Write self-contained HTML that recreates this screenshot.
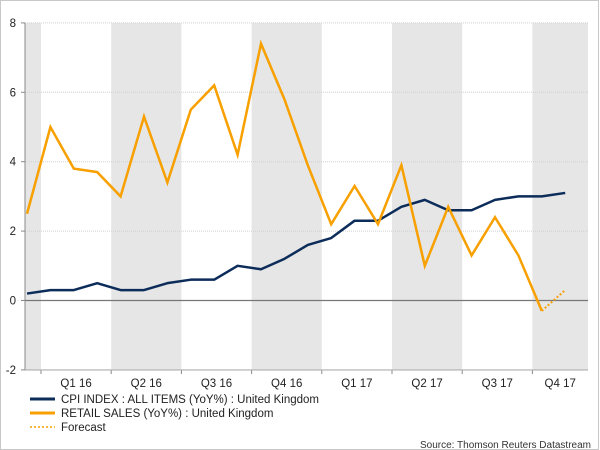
<!DOCTYPE html>
<html><head><meta charset="utf-8"><style>
body{margin:0;background:#fff}
svg{display:block;font-family:"Liberation Sans",Arial,sans-serif}
</style></head><body>
<svg id="c" width="600" height="450">
<rect x="0.5" y="0.5" width="598" height="449" fill="#fff" stroke="#c8c8c8"/>
<g id="bands"></g><g id="grid"></g><g id="axes"></g><g id="series"></g>
<g>
<line x1="30" y1="399" x2="55" y2="399" stroke="#0c2c5a" stroke-width="3"/>
<text x="61" y="403" font-size="11.5" fill="#222">CPI INDEX : ALL ITEMS (YoY%) : United Kingdom</text>
<line x1="30" y1="413" x2="55" y2="413" stroke="#f7a000" stroke-width="3"/>
<text x="61" y="417" font-size="11.5" fill="#222">RETAIL SALES (YoY%) : United Kingdom</text>
<line x1="30" y1="427" x2="55" y2="427" stroke="#f7a000" stroke-width="1.5" stroke-dasharray="2,2"/>
<text x="61" y="431" font-size="11.5" fill="#222">Forecast</text>
</g>
<text x="591" y="448" font-size="10" fill="#333" text-anchor="end">Source: Thomson Reuters Datastream</text>
</svg>
<script>
const quarterLabels=["Q1 16","Q2 16","Q3 16","Q4 16","Q1 17","Q2 17","Q3 17","Q4 17"];
const yTicks=[-2,0,2,4,6,8];
const cpi=[0.2,0.3,0.3,0.5,0.3,0.3,0.5,0.6,0.6,1.0,0.9,1.2,1.6,1.8,2.3,2.3,2.7,2.9,2.6,2.6,2.9,3.0,3.0,3.1];
const retail=[2.5,5.0,3.8,3.7,3.0,5.3,3.4,5.5,6.2,4.2,7.4,5.8,3.9,2.2,3.3,2.2,3.9,1.0,2.7,1.3,2.4,1.3,-0.3];
const forecast=[-0.3,0.3];
const NS="http://www.w3.org/2000/svg";
const L=25,R=588,T=23,B=370;
const y=v=>300.5-(v)*34.7;
const x=i=>27+23.4*i; // i=0 => Dec 2015
const qStart=q=>41+70.2*q;
function el(t,a,p){const e=document.createElementNS(NS,t);for(const k in a)e.setAttribute(k,a[k]);document.getElementById(p).appendChild(e);return e;}
// bands
let b=el('rect',{x:L,y:T,width:qStart(0)-L,height:B-T,fill:"#e6e6e6"},'bands');


quarterLabels.forEach((q,k)=>{
 if(k%2==1){const x0=qStart(k),x1=Math.min(qStart(k+1),R);
  const r=el('rect',{x:x0,y:T,width:x1-x0,height:B-T,fill:"#e6e6e6"},'bands');
  
  }
 const tx=el('text',{x:(qStart(k)+Math.min(qStart(k+1),R))/2,y:387,'font-size':11.5,fill:"#222",'text-anchor':'middle'},'axes');
 tx.textContent=q;
 
 
 const tk=el('line',{x1:qStart(k),x2:qStart(k),y1:B,y2:B+4,stroke:"#888"},'axes');
 
 
});
yTicks.forEach(v=>{
 const g=el('line',{x1:L,x2:R,y1:y(v),y2:y(v),stroke:v==0?"#777":"#d0d0d0",'stroke-width':v==0?1.3:1,'stroke-dasharray':v==0||v==-2?"":"1,1"},'grid');
 
 
 const t=el('text',{x:16,y:y(v)+4,'font-size':11.5,fill:"#222",'text-anchor':'end'},'axes');
 t.textContent=v;
 
 
 const tk=el('line',{x1:L-4,x2:L,y1:y(v),y2:y(v),stroke:"#888"},'axes');
 
 
});
const ax=el('line',{x1:L,x2:L,y1:T,y2:B,stroke:"#888"},'axes');


const bx=el('line',{x1:L,x2:R,y1:B,y2:B,stroke:"#aaa"},'axes');


const pts=(arr,o)=>arr.map((v,i)=>x(i+o)+","+y(v)).join(" ");
const p1=el('polyline',{points:pts(cpi,0),fill:"none",stroke:"#0c2c5a",'stroke-width':2.5,'stroke-linejoin':'round'},'series');


const p2=el('polyline',{points:pts(retail,0),fill:"none",stroke:"#f7a000",'stroke-width':2.5,'stroke-linejoin':'miter'},'series');


const p3=el('polyline',{points:pts(forecast,retail.length-1),fill:"none",stroke:"#f7a000",'stroke-width':2,'stroke-dasharray':"2,2"},'series');


</script>
</body></html>
